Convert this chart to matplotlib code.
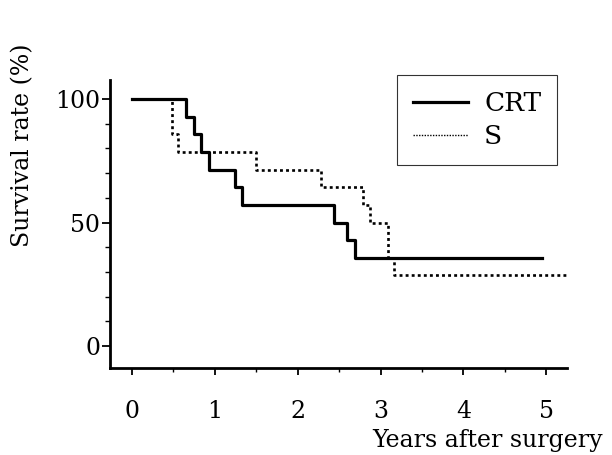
import numpy as np
import matplotlib
matplotlib.use("Agg")
import matplotlib.pyplot as plt
from matplotlib.lines import Line2D
from matplotlib.ticker import MultipleLocator

plt.rcParams["font.family"] = "DejaVu Serif"

# Kaplan-Meier steps (years, %)
crt_t = [0, 0.65, 0.75, 0.83, 0.93, 1.245, 1.325, 2.44, 2.59, 2.69, 4.95]
crt_s = [100, 92.9, 85.7, 78.6, 71.4, 64.3, 57.1, 50.0, 42.9, 35.7, 35.7]
s_t = [0, 0.48, 0.55, 1.50, 2.28, 2.79, 2.87, 3.09, 3.16, 5.24]
s_s = [100, 85.7, 78.6, 71.4, 64.3, 57.1, 50.0, 35.7, 28.6, 28.6]
labels = ["CRT", "S"]

fig = plt.figure(figsize=(6.12, 4.55), dpi=100)
ax = fig.add_axes([0.1797, 0.1912, 0.7468, 0.6330])

ax.step(crt_t, crt_s, where="post", color="black", lw=2.3)
ax.step(s_t, s_s, where="post", color="black", lw=1.9, ls=(0, (1.1, 1.2)))

ax.set_xlim(-0.265, 5.25)
ax.set_ylim(-8.9, 107.7)
for sp in ["top", "right"]:
    ax.spines[sp].set_visible(False)
for sp in ["left", "bottom"]:
    ax.spines[sp].set_linewidth(2.0)

ax.xaxis.set_major_locator(MultipleLocator(1))
ax.xaxis.set_minor_locator(MultipleLocator(0.5))
ax.yaxis.set_major_locator(MultipleLocator(50))
ax.yaxis.set_minor_locator(MultipleLocator(10))
ax.tick_params(axis="x", which="major", length=5, width=1.3, pad=18, labelsize=17)
ax.tick_params(axis="x", which="minor", length=3, width=1.0)
ax.tick_params(axis="y", which="major", length=6, width=1.3, pad=1, labelsize=17)
ax.tick_params(axis="y", which="minor", length=3.5, width=1.0)

handles = [Line2D([0], [0], color="black", lw=2.3),
           Line2D([0], [0], color="black", lw=1.0, ls=(0, (1, 1)))]
leg = ax.legend(handles, labels, loc="upper right",
                bbox_to_anchor=(557 / 612, 1 - 75 / 455),
                bbox_transform=fig.transFigure, fontsize=19,
                frameon=True, fancybox=False, edgecolor="black",
                handlelength=2.1, handletextpad=0.6, labelspacing=0.3,
                borderpad=0.6, borderaxespad=0)
leg.get_frame().set_linewidth(0.8)

fig.text(23 / 612, 1 - 145 / 455, "Survival rate (%)", rotation=90,
         ha="center", va="center", fontsize=17)
fig.text(603 / 612, 1 - 440 / 455, "Years after surgery",
         ha="right", va="center", fontsize=17)

fig.savefig("out.png", dpi=100)
